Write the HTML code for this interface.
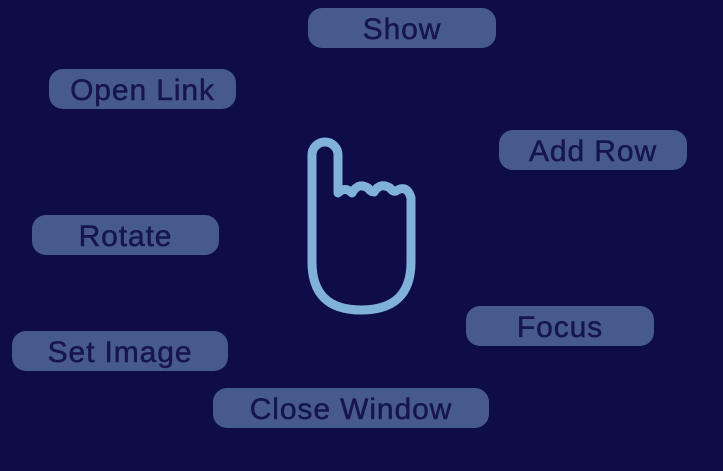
<!DOCTYPE html>
<html><head><style>
html,body{margin:0;padding:0}
body{width:723px;height:471px;background:#0f0c4a;position:relative;overflow:hidden;font-family:"Liberation Sans",sans-serif}
.p{position:absolute;height:40px;border-radius:14px;background:#475a8e;color:#17154f;font-size:30px;letter-spacing:0.9px;line-height:43px;text-align:center;-webkit-text-stroke:0.5px #17154f}
</style></head><body>
<div class="p" style="left:308px;top:8px;width:188px">Show</div>
<div class="p" style="left:49px;top:69px;width:187px">Open Link</div>
<div class="p" style="left:499px;top:130px;width:188px">Add Row</div>
<div class="p" style="left:32px;top:215px;width:187px">Rotate</div>
<div class="p" style="left:466px;top:306px;width:188px">Focus</div>
<div class="p" style="left:12px;top:331px;width:216px">Set Image</div>
<div class="p" style="left:213px;top:388px;width:276px">Close Window</div>
<svg style="position:absolute;left:0;top:0" width="723" height="471">
<path d="M312 155 A13 13 0 0 1 338 155 L338 193 Q345 186 352 193 Q358 182 368 188 Q371 192 374 192 Q380 182 390 188 Q393 192 396 191 Q407 184 411 198 L411 262 Q411 310 361 310 Q312 310 312 262 Z" fill="none" stroke="#80b1d8" stroke-width="9" stroke-linejoin="round"/>
</svg>
</body></html>
